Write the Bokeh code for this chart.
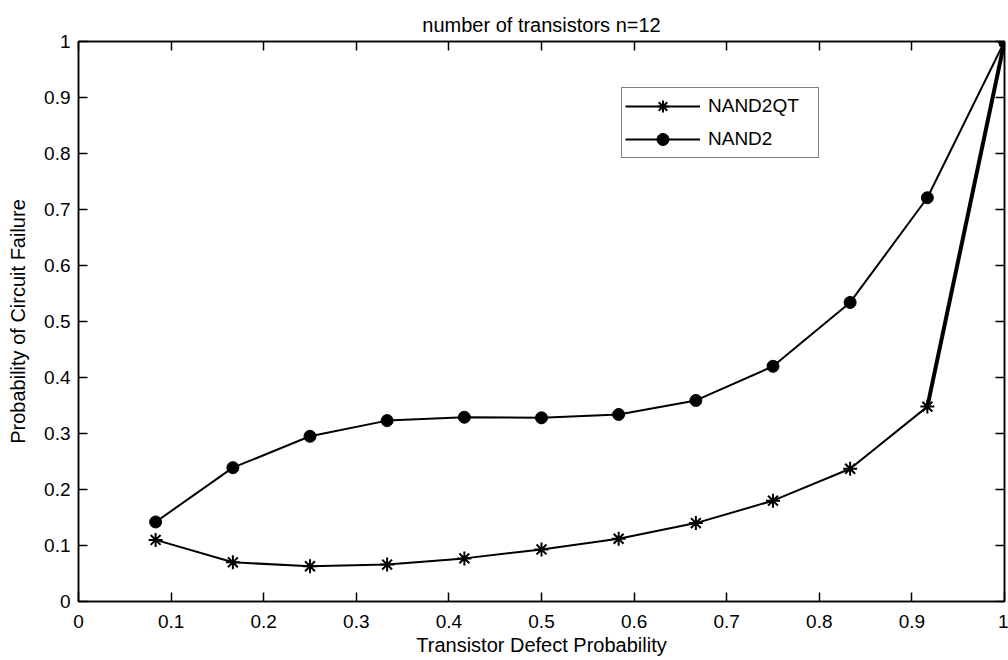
from bokeh.plotting import figure
from bokeh.models import Range1d, LinearAxis, FixedTicker, Legend, LegendItem
from bokeh.embed import file_html
from bokeh.resources import INLINE

# ---- data ----
defect_prob = [0.0833, 0.1667, 0.25, 0.3333, 0.4167, 0.5, 0.5833, 0.6667, 0.75, 0.8333, 0.9167, 1.0]
nand2qt = [0.110, 0.070, 0.063, 0.066, 0.077, 0.093, 0.112, 0.140, 0.180, 0.237, 0.348, 1.0]
nand2 = [0.142, 0.239, 0.295, 0.323, 0.329, 0.328, 0.334, 0.359, 0.420, 0.534, 0.721, 1.0]

x_ticks = [0, 0.1, 0.2, 0.3, 0.4, 0.5, 0.6, 0.7, 0.8, 0.9, 1.0]
x_tick_labels = ["0", "0.1", "0.2", "0.3", "0.4", "0.5", "0.6", "0.7", "0.8", "0.9", "1"]
y_ticks = [0, 0.1, 0.2, 0.3, 0.4, 0.5, 0.6, 0.7, 0.8, 0.9, 1.0]
y_tick_labels = ["0", "0.1", "0.2", "0.3", "0.4", "0.5", "0.6", "0.7", "0.8", "0.9", "1"]

title_text = "number of transistors n=12"
x_label = "Transistor Defect Probability"
y_label = "Probability of Circuit Failure"
series_names = ["NAND2QT", "NAND2"]

FONT = "Liberation Sans"
TICK_FS = "19px"
FS = "20px"

p = figure(frame_width=926, frame_height=560, output_backend="svg", toolbar_location=None,
           x_range=Range1d(0, 1), y_range=Range1d(0, 1),
           min_border_left=78, min_border_right=4, min_border_top=41, min_border_bottom=51,
           background_fill_color="white", border_fill_color="white")

p.title.text = title_text
p.title.text_font = FONT
p.title.text_font_size = FS
p.title.text_font_style = "normal"
p.title.align = "center"
p.title.text_color = "black"
p.title.standoff = 11

p.grid.visible = False
p.outline_line_color = "black"
p.outline_line_width = 1.5

xt = FixedTicker(ticks=x_ticks)
yt = FixedTicker(ticks=y_ticks)

def style_axis(ax, ticker, labels, show_labels):
    ax.ticker = ticker
    if show_labels:
        ax.major_label_overrides = {t: l for t, l in zip(ticker.ticks, labels)}
        ax.major_label_text_font_size = TICK_FS
    else:
        ax.major_label_overrides = {t: "" for t in ticker.ticks}
        ax.major_label_standoff = 0
    ax.major_tick_in = 9
    ax.major_tick_out = 0
    ax.minor_tick_line_color = None
    ax.major_tick_line_color = "black"
    ax.major_tick_line_width = 1.5
    ax.axis_line_color = "black"
    ax.axis_line_width = 1.5
    ax.major_label_text_font = FONT
    ax.major_label_text_color = "black"

style_axis(p.xaxis[0], xt, x_tick_labels, True)
style_axis(p.yaxis[0], yt, y_tick_labels, True)
p.xaxis[0].major_label_standoff = 13
p.yaxis[0].major_label_standoff = 8
p.xaxis[0].axis_label = x_label
p.yaxis[0].axis_label = y_label
for ax in (p.xaxis[0], p.yaxis[0]):
    ax.axis_label_text_font = FONT
    ax.axis_label_text_font_size = FS
    ax.axis_label_text_font_style = "normal"
    ax.axis_label_text_color = "black"
p.xaxis[0].axis_label_standoff = 3
p.yaxis[0].axis_label_standoff = 12

top_ax = LinearAxis()
right_ax = LinearAxis()
style_axis(top_ax, xt, x_tick_labels, False)
style_axis(right_ax, yt, y_tick_labels, False)
p.add_layout(top_ax, "above")
p.add_layout(right_ax, "right")

l1 = p.line(defect_prob, nand2qt, line_color="black", line_width=2)
p.line(defect_prob[-2:], nand2qt[-2:], line_color="black", line_width=4)
s1 = p.scatter(defect_prob, nand2qt, marker="asterisk", size=14, line_color="black", line_width=2)
l2 = p.line(defect_prob, nand2, line_color="black", line_width=2)
s2 = p.scatter(defect_prob, nand2, marker="circle", size=12, fill_color="black", line_color="black")

legend = Legend(items=[LegendItem(label=series_names[0], renderers=[l1, s1]),
                       LegendItem(label=series_names[1], renderers=[l2, s2])],
                location=(543, 443))
legend.label_text_font = FONT
legend.label_text_font_size = TICK_FS
legend.label_text_color = "black"
legend.glyph_width = 75
legend.glyph_height = 30
legend.label_height = 30
legend.label_width = 107
legend.label_standoff = 8
legend.padding = 3
legend.spacing = 3
legend.margin = 0
legend.border_line_color = "black"
legend.border_line_width = 1.5
legend.background_fill_color = "white"
legend.background_fill_alpha = 1
p.add_layout(legend, "center")

open("out.html", "w").write(file_html(p, INLINE))
